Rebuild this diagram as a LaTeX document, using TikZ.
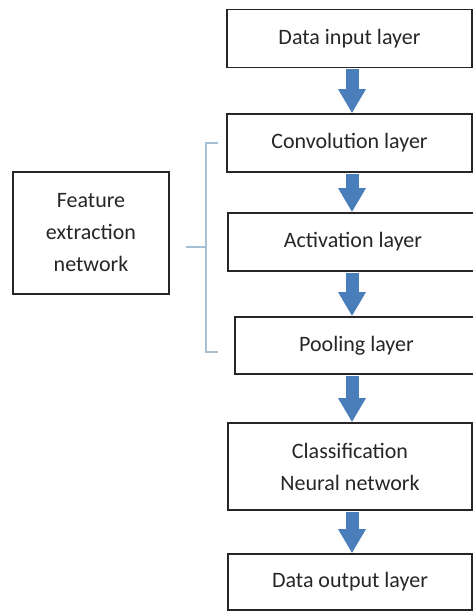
\documentclass[tikz,border=0pt]{standalone}
\usepackage{fontspec}
\setmainfont{Carlito}
\usepackage{xcolor}
\usetikzlibrary{arrows.meta}

\definecolor{arrowblue}{HTML}{4A7EBB}
\definecolor{bracketblue}{HTML}{A7BFD3}

\begin{document}
\begin{tikzpicture}[x=1pt, y=-1pt, line width=1.6pt,
    layer/.style={draw=black!85, rectangle, inner sep=0pt, minimum width=245pt,
        minimum height=58pt, align=center, text=black!85,
        font=\fontsize{22}{32}\selectfont},
    flow/.style={-{Triangle[length=24pt, width=26pt]}, line width=13pt,
        draw=arrowblue, shorten <=0.8pt},
    bracket/.style={draw=bracketblue, line width=2pt}]
    \useasboundingbox (0,0) rectangle (473,612);

    % Layer boxes
    \node[layer] (in) at (349.5,38.5) {Data input layer};
    \node[layer] (conv) at (349.5,143) {Convolution layer};
    \node[layer, minimum width=250pt] (act) at (353,242) {Activation layer};
    \node[layer, minimum width=243pt, minimum height=57pt] (pool) at (356.5,345.5) {Pooling layer};
    \node[layer, minimum width=244pt, minimum height=87pt] (cls) at (350,466.5) {Classification\\Neural network};
    \node[layer, minimum width=244pt, minimum height=56pt] (out) at (350,582) {Data output layer};

    % Side box
    \node[layer, minimum width=156pt, minimum height=122pt] (feat) at (91,233) {Feature\\extraction\\network};

    % Block arrows between layers
    \coordinate (axis) at (352,0);
    \foreach \a/\b in {in/conv, conv/act, act/pool, pool/cls, cls/out}
    {
        \draw[flow] (\a.south -| axis) -- (\b.north -| axis);
    }

    % Bracket round the feature layers
    \draw[bracket] (218,143) -- (206,143) -- (206,352) -- (218,352);
    \draw[bracket] (186,247) -- (206,247);
\end{tikzpicture}
\end{document}
